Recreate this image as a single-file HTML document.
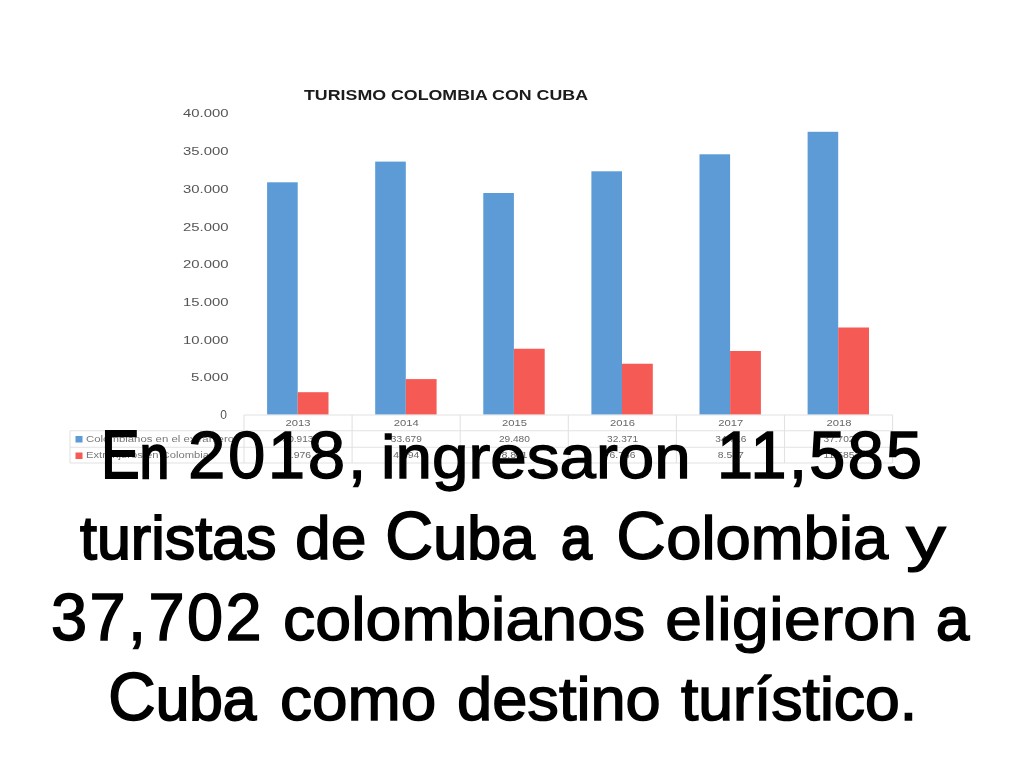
<!DOCTYPE html>
<html lang="es">
<head>
<meta charset="utf-8">
<title>Turismo Colombia con Cuba</title>
<style>
html,body{margin:0;padding:0;background:#fff;}
body{width:1024px;height:768px;position:relative;overflow:hidden;font-family:"Liberation Sans",sans-serif;}
#chart{position:absolute;left:0;top:0;width:1024px;height:768px;}
#chart text{font-family:"Liberation Sans",sans-serif;}
.cap{position:absolute;left:0;top:0;width:1024px;height:768px;margin:0;}
.w{position:absolute;display:inline-block;transform-origin:0 50%;white-space:nowrap;color:#000;font-family:"Liberation Sans",sans-serif;font-size:62px;line-height:80px;-webkit-text-stroke:1px #000;}
</style>
</head>
<body>
<svg id="chart" width="1024" height="768" viewBox="0 0 1024 768">
  <defs>
    <filter id="b1" x="-5%" y="-5%" width="110%" height="110%"><feGaussianBlur stdDeviation="0.7"/></filter>
    <filter id="b2" x="-5%" y="-20%" width="110%" height="140%"><feGaussianBlur stdDeviation="0.65"/></filter>
    <filter id="b3" x="-5%" y="-20%" width="110%" height="140%"><feGaussianBlur stdDeviation="0.75"/></filter>
  </defs>
  <!-- table grid -->
  <g filter="url(#b3)" stroke="#e2e2e2" stroke-width="1.1" fill="none">
    <path d="M244 415H892.6M70 430.75H892.6M70 447.25H892.6M70 463H892.6"/>
    <path d="M70 430.75V463M244 415V463M352.1 415V463M460.2 415V463M568.3 415V463M676.4 415V463M784.5 415V463M892.6 415V463"/>
  </g>
  <!-- bars -->
  <g filter="url(#b1)">
    <g fill="#5b9bd5">
      <rect x="267.1" y="182.3" width="30.6" height="232.10"/>
      <rect x="375.2" y="161.6" width="30.6" height="252.80"/>
      <rect x="483.3" y="193" width="30.6" height="221.40"/>
      <rect x="591.4" y="171.3" width="30.6" height="243.10"/>
      <rect x="699.5" y="154.3" width="30.6" height="260.10"/>
      <rect x="807.6" y="131.8" width="30.6" height="282.60"/>
    </g>
    <g fill="#f65a55">
      <rect x="297.7" y="392.2" width="30.8" height="22.20"/>
      <rect x="405.8" y="379.1" width="30.8" height="35.30"/>
      <rect x="513.9" y="348.75" width="30.8" height="65.65"/>
      <rect x="622.0" y="363.75" width="30.8" height="50.65"/>
      <rect x="730.1" y="351" width="30.8" height="63.40"/>
      <rect x="838.2" y="327.5" width="30.8" height="86.90"/>
    </g>
    <rect x="75.5" y="436" width="7" height="6.5" fill="#5b9bd5"/>
    <rect x="75.5" y="452.5" width="7" height="6.5" fill="#f65a55"/>
  </g>
  <!-- title and axis -->
  <g filter="url(#b2)">
    <text x="446" y="99.5" text-anchor="middle" font-size="14.6" font-weight="bold" fill="#1a1a1a" textLength="284" lengthAdjust="spacingAndGlyphs">TURISMO COLOMBIA CON CUBA</text>
    <g font-size="11" fill="#555">
      <text x="183.0" y="117" textLength="45.5" lengthAdjust="spacingAndGlyphs">40.000</text>
      <text x="183.0" y="155" textLength="45.5" lengthAdjust="spacingAndGlyphs">35.000</text>
      <text x="183.0" y="193" textLength="45.5" lengthAdjust="spacingAndGlyphs">30.000</text>
      <text x="183.0" y="230.5" textLength="45.5" lengthAdjust="spacingAndGlyphs">25.000</text>
      <text x="183.0" y="268" textLength="45.5" lengthAdjust="spacingAndGlyphs">20.000</text>
      <text x="183.0" y="306" textLength="45.5" lengthAdjust="spacingAndGlyphs">15.000</text>
      <text x="183.0" y="343.5" textLength="45.5" lengthAdjust="spacingAndGlyphs">10.000</text>
      <text x="191.0" y="381" textLength="37.5" lengthAdjust="spacingAndGlyphs">5.000</text>
      <text x="220.3" y="419" font-size="12">0</text>
    </g>
  </g>
  <!-- table text -->
  <g filter="url(#b3)" font-size="9.7" fill="#686868">
    <g>
      <text x="285.5" y="426.3" textLength="25" lengthAdjust="spacingAndGlyphs">2013</text>
      <text x="393.8" y="426.3" textLength="25" lengthAdjust="spacingAndGlyphs">2014</text>
      <text x="501.9" y="426.3" textLength="25" lengthAdjust="spacingAndGlyphs">2015</text>
      <text x="610.1" y="426.3" textLength="25" lengthAdjust="spacingAndGlyphs">2016</text>
      <text x="718.3" y="426.3" textLength="25" lengthAdjust="spacingAndGlyphs">2017</text>
      <text x="826.5" y="426.3" textLength="25" lengthAdjust="spacingAndGlyphs">2018</text>
      <text x="282.5" y="441.7" textLength="31" lengthAdjust="spacingAndGlyphs">30.913</text>
      <text x="390.8" y="441.7" textLength="31" lengthAdjust="spacingAndGlyphs">33.679</text>
      <text x="498.9" y="441.7" textLength="31" lengthAdjust="spacingAndGlyphs">29.480</text>
      <text x="607.1" y="441.7" textLength="31" lengthAdjust="spacingAndGlyphs">32.371</text>
      <text x="715.3" y="441.7" textLength="31" lengthAdjust="spacingAndGlyphs">34.716</text>
      <text x="823.5" y="441.7" textLength="31" lengthAdjust="spacingAndGlyphs">37.702</text>
      <text x="285.0" y="458.2" textLength="26" lengthAdjust="spacingAndGlyphs">2.976</text>
      <text x="393.3" y="458.2" textLength="26" lengthAdjust="spacingAndGlyphs">4.694</text>
      <text x="501.4" y="458.2" textLength="26" lengthAdjust="spacingAndGlyphs">8.811</text>
      <text x="609.6" y="458.2" textLength="26" lengthAdjust="spacingAndGlyphs">6.786</text>
      <text x="717.8" y="458.2" textLength="26" lengthAdjust="spacingAndGlyphs">8.537</text>
      <text x="823.5" y="458.2" textLength="31" lengthAdjust="spacingAndGlyphs">11.585</text>
    </g>
    <text x="86" y="441.7" fill="#787878" textLength="148" lengthAdjust="spacingAndGlyphs">Colombianos en el extranjero</text>
    <text x="86" y="458.2" fill="#787878" textLength="123" lengthAdjust="spacingAndGlyphs">Extranjeros en Colombia</text>
  </g>
</svg>
<p class="cap">
<span class="ln"><span class="w" style="left:100.54px;top:416.61px;font-size:62px;-webkit-text-stroke-width:2.28px;transform:scaleX(0.8521)"><span style="font-size:68px;line-height:0;-webkit-text-stroke-width:1.86px">E</span>n</span> <span class="w" style="left:187.75px;top:415.11px;font-size:67px;-webkit-text-stroke-width:1.28px;transform:scaleX(1.0042)"><span style="letter-spacing:2.5px">2018</span>,</span> <span class="w" style="left:381.09px;top:417.12px;font-size:62px;-webkit-text-stroke-width:1.27px;transform:scaleX(1.0571)">ingresaron</span> <span class="w" style="left:717.41px;top:414.96px;font-size:67px;-webkit-text-stroke-width:1.57px;transform:scaleX(0.9651)"><span style="letter-spacing:2.5px">11,58</span>5</span></span>
<span class="ln"><span class="w" style="left:79.95px;top:497.86px;font-size:62px;-webkit-text-stroke-width:1.78px;transform:scaleX(0.9834)">turistas</span> <span class="w" style="left:295.49px;top:498.05px;font-size:62px;-webkit-text-stroke-width:1.39px;transform:scaleX(1.0386)">de</span> <span class="w" style="left:384.75px;top:497.86px;font-size:62px;-webkit-text-stroke-width:1.78px;transform:scaleX(0.9830)"><span style="font-size:68px;line-height:0;-webkit-text-stroke-width:1.35px">C</span>uba</span> <span class="w" style="left:560.62px;top:497.61px;font-size:62px;-webkit-text-stroke-width:2.28px;transform:scaleX(0.8955)">a</span> <span class="w" style="left:615.99px;top:498.00px;font-size:62px;-webkit-text-stroke-width:1.50px;transform:scaleX(1.0225)"><span style="font-size:68px;line-height:0;-webkit-text-stroke-width:1.06px">C</span>olombia</span> <span class="w" style="left:906.36px;top:498.19px;font-size:62px;-webkit-text-stroke-width:1.12px;transform:scaleX(1.2905)">y</span></span>
<span class="ln"><span class="w" style="left:50.77px;top:576.73px;font-size:67px;-webkit-text-stroke-width:1.54px;transform:scaleX(0.9689)"><span style="letter-spacing:2.5px">37,70</span>2</span> <span class="w" style="left:282.92px;top:578.81px;font-size:62px;-webkit-text-stroke-width:1.37px;transform:scaleX(1.0410)">colombianos</span> <span class="w" style="left:665.27px;top:578.93px;font-size:62px;-webkit-text-stroke-width:1.14px;transform:scaleX(1.0768)">eligieron</span> <span class="w" style="left:935.84px;top:578.54px;font-size:62px;-webkit-text-stroke-width:1.92px;transform:scaleX(0.9641)">a</span></span>
<span class="ln"><span class="w" style="left:108.33px;top:659.07px;font-size:62px;-webkit-text-stroke-width:1.86px;transform:scaleX(0.9724)"><span style="font-size:68px;line-height:0;-webkit-text-stroke-width:1.43px">C</span>uba</span> <span class="w" style="left:280.49px;top:659.28px;font-size:62px;-webkit-text-stroke-width:1.44px;transform:scaleX(1.0313)">como</span> <span class="w" style="left:457.10px;top:659.24px;font-size:62px;-webkit-text-stroke-width:1.52px;transform:scaleX(1.0192)">destino</span> <span class="w" style="left:681.35px;top:659.20px;font-size:62px;-webkit-text-stroke-width:1.60px;transform:scaleX(1.0078)">turístico.</span></span>
</p>
</body>
</html>
